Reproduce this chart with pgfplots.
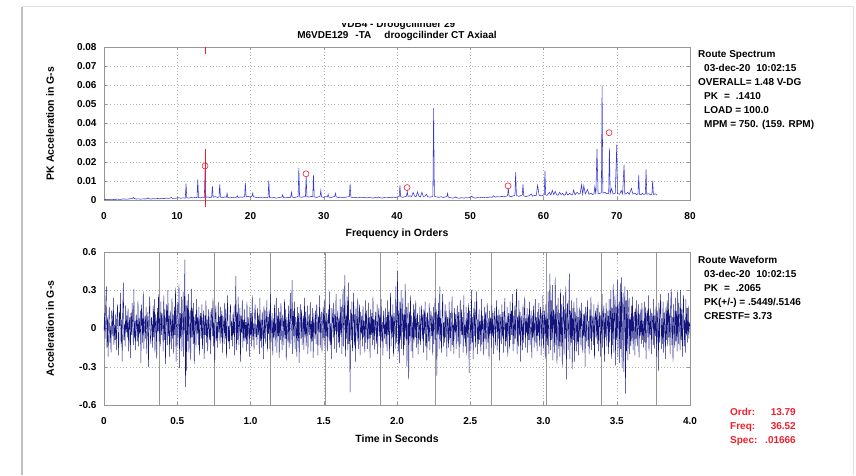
\documentclass[border=0pt]{standalone}
\usepackage{fontspec}
\setmainfont{Liberation Sans}
\usepackage{pgfplots}
\pgfplotsset{compat=1.18}
\usepackage{pgfplotstable}

\definecolor{specblue}{RGB}{55,55,215}
\definecolor{waveblue}{RGB}{20,20,125}
\definecolor{axgray}{RGB}{150,150,150}
\definecolor{cursred}{RGB}{240,30,45}
\definecolor{revgray}{RGB}{150,150,150}

% waveform samples, 4 ms apart
\pgfplotstableread[header=false,row sep=\\]{
-0.02\\ 0.12\\ -0.08\\ 0.21\\ 0.33\\ -0.15\\ 0.09\\ -0.22\\ 0.05\\ 0.17\\ -0.11\\ 0.02\\ -0.19\\ 0.14\\ 0.08\\ -0.06\\ 0.24\\ -0.13\\ 0.03\\ -0.09\\
0.11\\ -0.17\\ 0.06\\ 0.19\\ -0.04\\ -0.21\\ 0.13\\ 0.02\\ 0.28\\ -0.12\\ 0.07\\ -0.26\\ 0.15\\ 0.36\\ -0.09\\ 0.04\\ -0.14\\ 0.18\\ -0.03\\ 0.10\\
-0.07\\ 0.16\\ -0.18\\ 0.05\\ 0.09\\ -0.23\\ 0.12\\ -0.05\\ 0.20\\ 0.01\\ -0.13\\ 0.31\\ -0.08\\ 0.06\\ -0.17\\ 0.11\\ 0.03\\ -0.10\\ 0.22\\ -0.14\\
0.08\\ -0.04\\ 0.14\\ -0.27\\ 0.19\\ 0.06\\ -0.11\\ 0.29\\ -0.16\\ 0.02\\ 0.10\\ -0.08\\ 0.17\\ -0.20\\ 0.04\\ 0.13\\ -0.30\\ 0.07\\ 0.25\\ -0.06\\
-0.12\\ 0.09\\ 0.03\\ -0.15\\ 0.18\\ -0.07\\ 0.23\\ -0.19\\ 0.11\\ 0.05\\ -0.24\\ 0.16\\ -0.02\\ 0.27\\ -0.10\\ 0.08\\ -0.14\\ 0.21\\ -0.05\\ 0.12\\
0.04\\ -0.18\\ 0.26\\ -0.09\\ 0.15\\ -0.28\\ 0.07\\ 0.19\\ -0.13\\ 0.30\\ -0.06\\ 0.10\\ -0.22\\ 0.14\\ 0.02\\ -0.16\\ 0.24\\ -0.08\\ 0.11\\ -0.20\\
0.17\\ -0.05\\ 0.32\\ -0.26\\ 0.09\\ 0.21\\ -0.14\\ 0.06\\ 0.35\\ -0.31\\ 0.12\\ -0.08\\ 0.25\\ -0.18\\ 0.04\\ 0.29\\ -0.22\\ 0.13\\ 0.54\\ -0.46\\
0.18\\ -0.33\\ 0.22\\ -0.10\\ 0.27\\ -0.19\\ 0.08\\ 0.14\\ -0.25\\ 0.31\\ -0.07\\ 0.16\\ -0.12\\ 0.20\\ -0.28\\ 0.05\\ 0.11\\ -0.15\\ 0.23\\ -0.04\\
0.09\\ -0.13\\ 0.17\\ -0.21\\ 0.06\\ 0.12\\ -0.08\\ 0.19\\ -0.16\\ 0.03\\ 0.14\\ -0.24\\ 0.10\\ -0.05\\ 0.22\\ -0.11\\ 0.07\\ -0.18\\ 0.15\\ 0.01\\
-0.09\\ 0.13\\ -0.20\\ 0.08\\ 0.16\\ -0.06\\ 0.24\\ -0.14\\ 0.04\\ -0.27\\ 0.11\\ 0.18\\ -0.10\\ 0.05\\ -0.15\\ 0.21\\ -0.03\\ 0.09\\ -0.12\\ 0.17\\
-0.07\\ 0.14\\ -0.19\\ 0.10\\ 0.03\\ -0.12\\ 0.20\\ -0.08\\ 0.15\\ -0.23\\ 0.07\\ 0.26\\ -0.11\\ 0.02\\ -0.16\\ 0.12\\ 0.19\\ -0.09\\ 0.06\\ -0.14\\
0.11\\ -0.05\\ 0.18\\ -0.21\\ 0.08\\ 0.41\\ -0.17\\ 0.13\\ -0.09\\ 0.25\\ -0.13\\ 0.04\\ 0.16\\ -0.26\\ 0.10\\ -0.03\\ 0.22\\ -0.15\\ 0.07\\ -0.10\\
0.15\\ -0.08\\ 0.05\\ -0.18\\ 0.21\\ -0.12\\ 0.09\\ 0.02\\ -0.22\\ 0.17\\ -0.06\\ 0.12\\ -0.14\\ 0.26\\ -0.09\\ 0.04\\ -0.17\\ 0.11\\ 0.19\\ -0.07\\
0.03\\ -0.13\\ 0.16\\ -0.05\\ 0.10\\ -0.20\\ 0.24\\ -0.10\\ 0.07\\ -0.15\\ 0.13\\ 0.01\\ -0.24\\ 0.18\\ -0.08\\ 0.14\\ -0.12\\ 0.06\\ 0.22\\ -0.18\\
0.09\\ -0.04\\ 0.15\\ -0.16\\ 0.27\\ -0.11\\ 0.05\\ 0.12\\ -0.21\\ 0.08\\ -0.07\\ 0.19\\ -0.14\\ 0.03\\ 0.24\\ -0.19\\ 0.10\\ -0.06\\ 0.16\\ -0.23\\
0.13\\ -0.09\\ 0.20\\ -0.02\\ -0.17\\ 0.11\\ 0.06\\ -0.13\\ 0.23\\ -0.08\\ 0.15\\ -0.25\\ 0.09\\ 0.02\\ -0.11\\ 0.18\\ -0.15\\ 0.07\\ 0.28\\ -0.12\\
0.05\\ 0.38\\ -0.20\\ 0.14\\ -0.06\\ 0.21\\ -0.16\\ 0.09\\ 0.03\\ -0.22\\ 0.17\\ -0.10\\ 0.12\\ -0.27\\ 0.06\\ 0.19\\ -0.08\\ 0.15\\ -0.13\\ 0.04\\
0.10\\ -0.17\\ 0.24\\ -0.07\\ 0.13\\ -0.14\\ 0.02\\ 0.18\\ -0.20\\ 0.08\\ 0.11\\ -0.05\\ 0.21\\ -0.18\\ 0.06\\ -0.10\\ 0.16\\ -0.23\\ 0.12\\ 0.03\\
-0.08\\ 0.14\\ -0.12\\ 0.19\\ 0.05\\ -0.21\\ 0.10\\ -0.03\\ 0.26\\ -0.15\\ 0.08\\ 0.13\\ -0.19\\ 0.04\\ 0.17\\ -0.09\\ 0.22\\ -0.14\\ 0.07\\ -0.06\\
0.12\\ -0.18\\ 0.07\\ 0.15\\ -0.10\\ 0.29\\ -0.13\\ 0.04\\ -0.24\\ 0.16\\ 0.09\\ -0.07\\ 0.20\\ -0.16\\ 0.11\\ -0.02\\ 0.27\\ -0.19\\ 0.06\\ 0.14\\
-0.11\\ 0.08\\ -0.15\\ 0.23\\ -0.05\\ 0.17\\ -0.20\\ 0.12\\ 0.31\\ -0.14\\ 0.06\\ 0.42\\ -0.22\\ 0.10\\ -0.08\\ 0.25\\ -0.17\\ 0.36\\ -0.12\\ 0.07\\
-0.50\\ 0.15\\ -0.09\\ 0.21\\ -0.18\\ 0.05\\ 0.28\\ -0.13\\ 0.11\\ -0.26\\ 0.17\\ 0.03\\ -0.10\\ 0.24\\ -0.16\\ 0.08\\ 0.19\\ -0.21\\ 0.13\\ -0.04\\
0.10\\ -0.14\\ 0.18\\ -0.07\\ 0.06\\ -0.19\\ 0.22\\ -0.11\\ 0.14\\ 0.02\\ -0.16\\ 0.20\\ -0.08\\ 0.09\\ -0.23\\ 0.15\\ -0.05\\ 0.12\\ -0.13\\ 0.25\\
-0.09\\ 0.07\\ -0.17\\ 0.13\\ 0.04\\ -0.12\\ 0.19\\ -0.20\\ 0.08\\ 0.16\\ -0.06\\ 0.11\\ -0.15\\ 0.23\\ -0.10\\ 0.05\\ -0.21\\ 0.14\\ 0.02\\ -0.08\\
0.16\\ -0.12\\ 0.09\\ -0.18\\ 0.22\\ -0.05\\ 0.13\\ -0.24\\ 0.07\\ 0.28\\ -0.14\\ 0.10\\ -0.07\\ 0.19\\ -0.22\\ 0.12\\ 0.04\\ -0.16\\ 0.33\\ -0.11\\
0.08\\ 0.45\\ -0.19\\ 0.14\\ -0.27\\ 0.21\\ -0.09\\ 0.30\\ -0.16\\ 0.06\\ 0.24\\ -0.21\\ 0.11\\ -0.13\\ 0.35\\ -0.08\\ 0.17\\ -0.30\\ 0.09\\ 0.20\\
-0.40\\ 0.13\\ -0.06\\ 0.26\\ -0.18\\ 0.10\\ 0.03\\ -0.23\\ 0.19\\ -0.11\\ 0.15\\ -0.07\\ 0.22\\ -0.15\\ 0.08\\ 0.12\\ -0.20\\ 0.05\\ -0.09\\ 0.17\\
-0.13\\ 0.06\\ 0.18\\ -0.08\\ 0.11\\ -0.19\\ 0.15\\ -0.04\\ 0.21\\ -0.14\\ 0.09\\ -0.25\\ 0.13\\ 0.02\\ -0.10\\ 0.20\\ -0.17\\ 0.07\\ 0.14\\ -0.06\\
0.10\\ -0.21\\ 0.17\\ -0.12\\ 0.06\\ 0.24\\ -0.09\\ 0.15\\ -0.37\\ 0.11\\ -0.05\\ 0.20\\ -0.16\\ 0.33\\ -0.10\\ 0.08\\ -0.19\\ 0.13\\ 0.27\\ -0.14\\
0.05\\ -0.11\\ 0.19\\ -0.07\\ 0.14\\ -0.22\\ 0.09\\ 0.02\\ -0.15\\ 0.21\\ -0.09\\ 0.12\\ -0.18\\ 0.07\\ 0.25\\ -0.13\\ 0.04\\ -0.20\\ 0.16\\ -0.03\\
0.11\\ -0.16\\ 0.08\\ 0.18\\ -0.10\\ 0.13\\ -0.23\\ 0.06\\ 0.22\\ -0.12\\ 0.15\\ -0.05\\ 0.09\\ -0.19\\ 0.26\\ -0.08\\ 0.03\\ -0.14\\ 0.17\\ -0.21\\
0.12\\ -0.07\\ 0.20\\ -0.35\\ 0.14\\ 0.04\\ -0.17\\ 0.30\\ -0.11\\ 0.09\\ -0.24\\ 0.16\\ -0.06\\ 0.21\\ -0.15\\ 0.10\\ 0.29\\ -0.20\\ 0.07\\ -0.12\\
0.15\\ -0.09\\ 0.06\\ -0.18\\ 0.23\\ -0.13\\ 0.10\\ 0.02\\ -0.21\\ 0.17\\ -0.08\\ 0.13\\ -0.16\\ 0.05\\ 0.20\\ -0.11\\ 0.08\\ -0.24\\ 0.14\\ -0.04\\
0.09\\ -0.15\\ 0.18\\ -0.06\\ 0.12\\ -0.20\\ 0.07\\ 0.16\\ -0.13\\ 0.04\\ 0.22\\ -0.17\\ 0.10\\ -0.08\\ 0.15\\ -0.25\\ 0.11\\ 0.03\\ -0.12\\ 0.19\\
-0.07\\ 0.13\\ -0.19\\ 0.08\\ 0.24\\ -0.14\\ 0.05\\ -0.10\\ 0.17\\ -0.22\\ 0.12\\ 0.06\\ -0.16\\ 0.21\\ -0.09\\ 0.14\\ -0.05\\ 0.27\\ -0.18\\ 0.10\\
-0.12\\ 0.18\\ -0.08\\ 0.15\\ 0.31\\ -0.20\\ 0.09\\ -0.14\\ 0.22\\ -0.06\\ 0.13\\ -0.26\\ 0.10\\ 0.03\\ -0.17\\ 0.19\\ -0.11\\ 0.07\\ 0.25\\ -0.15\\
0.08\\ -0.04\\ 0.16\\ -0.19\\ 0.11\\ -0.09\\ 0.21\\ -0.13\\ 0.06\\ 0.14\\ -0.23\\ 0.10\\ -0.07\\ 0.18\\ -0.15\\ 0.04\\ 0.23\\ -0.11\\ 0.09\\ -0.18\\
0.13\\ -0.06\\ 0.20\\ -0.14\\ 0.07\\ 0.17\\ -0.21\\ 0.12\\ -0.08\\ 0.26\\ -0.16\\ 0.05\\ 0.14\\ -0.24\\ 0.19\\ -0.10\\ 0.08\\ -0.13\\ 0.29\\ -0.20\\
0.11\\ 0.43\\ -0.17\\ 0.22\\ -0.09\\ 0.34\\ -0.25\\ 0.15\\ 0.07\\ -0.19\\ 0.40\\ -0.13\\ 0.18\\ -0.28\\ 0.09\\ 0.24\\ -0.16\\ 0.12\\ -0.22\\ 0.31\\
-0.14\\ 0.19\\ -0.30\\ 0.10\\ 0.26\\ -0.21\\ 0.15\\ -0.08\\ 0.33\\ -0.40\\ 0.12\\ 0.20\\ -0.17\\ 0.06\\ 0.43\\ -0.24\\ 0.14\\ -0.11\\ 0.22\\ -0.32\\
0.16\\ -0.09\\ 0.21\\ -0.26\\ 0.13\\ 0.05\\ -0.18\\ 0.24\\ -0.12\\ 0.09\\ -0.21\\ 0.17\\ -0.07\\ 0.14\\ -0.15\\ 0.20\\ 0.03\\ -0.19\\ 0.11\\ -0.06\\
0.12\\ -0.30\\ 0.17\\ -0.10\\ 0.08\\ 0.22\\ -0.14\\ 0.06\\ -0.20\\ 0.15\\ -0.08\\ 0.25\\ -0.17\\ 0.10\\ 0.04\\ -0.13\\ 0.19\\ -0.24\\ 0.09\\ 0.14\\
-0.08\\ 0.16\\ -0.12\\ 0.21\\ -0.18\\ 0.07\\ 0.13\\ -0.22\\ 0.10\\ -0.05\\ 0.27\\ -0.15\\ 0.09\\ 0.18\\ -0.26\\ 0.12\\ -0.07\\ 0.20\\ -0.14\\ 0.05\\
0.14\\ -0.20\\ 0.23\\ -0.11\\ 0.08\\ 0.30\\ -0.24\\ 0.16\\ -0.13\\ 0.35\\ -0.19\\ 0.11\\ 0.26\\ -0.29\\ 0.17\\ -0.09\\ 0.38\\ -0.22\\ 0.13\\ 0.21\\
-0.27\\ 0.36\\ -0.16\\ 0.40\\ -0.31\\ 0.19\\ 0.28\\ -0.34\\ 0.14\\ 0.33\\ -0.51\\ 0.22\\ -0.18\\ 0.30\\ -0.25\\ 0.12\\ 0.24\\ -0.20\\ 0.09\\ -0.14\\
0.18\\ -0.10\\ 0.25\\ -0.17\\ 0.07\\ 0.13\\ -0.21\\ 0.16\\ -0.08\\ 0.22\\ -0.14\\ 0.05\\ 0.19\\ -0.23\\ 0.11\\ -0.06\\ 0.15\\ -0.12\\ 0.20\\ -0.09\\
0.06\\ -0.15\\ 0.21\\ -0.11\\ 0.17\\ -0.24\\ 0.09\\ 0.14\\ -0.07\\ 0.26\\ -0.18\\ 0.10\\ -0.05\\ 0.16\\ -0.20\\ 0.12\\ 0.08\\ -0.13\\ 0.23\\ -0.16\\
0.10\\ -0.06\\ 0.18\\ -0.22\\ 0.14\\ 0.05\\ -0.33\\ 0.20\\ -0.11\\ 0.15\\ 0.27\\ -0.16\\ 0.08\\ -0.12\\ 0.21\\ -0.19\\ 0.13\\ 0.03\\ -0.24\\ 0.17\\
-0.09\\ 0.22\\ -0.14\\ 0.28\\ -0.07\\ 0.12\\ -0.20\\ 0.17\\ 0.31\\ -0.13\\ 0.09\\ -0.26\\ 0.19\\ 0.06\\ -0.15\\ 0.24\\ -0.10\\ 0.14\\ -0.18\\ 0.29\\
-0.12\\ 0.20\\ 0.08\\ -0.17\\ 0.30\\ -0.09\\ 0.15\\ -0.22\\ 0.11\\ 0.26\\ -0.14\\ 0.07\\ -0.19\\ 0.23\\ -0.06\\ 0.16\\ -0.11\\ 0.18\\ -0.08\\ 0.04\\
0.02\\
}\wave

\begin{document}
\begin{tikzpicture}[x=1pt,y=1pt]
\useasboundingbox (0,0) rectangle (856,476);
% window frame
\draw[black!12, line width=1pt] (22,469) -- (853,469) -- (853,1);
\draw[black!25, line width=2.5pt] (22,1) -- (22,469);

\pgfplotsset{
  every axis/.append style={
    scale only axis, anchor=south west, width=586pt, height=153pt,
    axis line style={axgray}, tick style={axgray, thin}, major tick length=3pt,
    tick align=inside,
    scaled ticks=false,
    grid=major, grid style={gray!60, dash pattern=on 0.8pt off 2.4pt},
    /pgf/number format/assume math mode=true,
    ticklabel style={font=\fontsize{10}{12}\selectfont\bfseries},
    xticklabel style={yshift=-9pt},
    yticklabel style={xshift=-4pt},
    label style={font=\fontsize{10.5}{12}\selectfont\bfseries},
    xlabel style={at={(axis description cs:0.5,-0.219)}, anchor=center},
    ylabel style={at={(axis description cs:-0.092,0.5)}, anchor=center},
    clip=false,
  }
}

% spectrum
\begin{axis}[
  at={(104pt,276pt)},
  xmin=0, xmax=80, ymin=0, ymax=0.08,
  xtick={0,10,20,30,40,50,60,70,80},
  xticklabels={0,10,20,30,40,50,60,70,80},
  ytick={0,0.01,0.02,0.03,0.04,0.05,0.06,0.07,0.08},
  yticklabels={0,0.01,0.02,0.03,0.04,0.05,0.06,0.07,0.08},
  xlabel={Frequency in Orders},
  ylabel={PK Acceleration in G-s},
]
\addplot[specblue, line width=0.55pt, sharp plot] coordinates {
(0.0,0.0002)(0.3,0.0003)(0.6,0.0002)(0.9,0.0004)(1.2,0.0003)(1.5,0.0002)(1.8,0.0005)(2.1,0.0003)
(2.4,0.0004)(2.7,0.0006)(3.0,0.0004)(3.3,0.0005)(3.6,0.0007)(3.9,0.0009)(4.0,0.0014)(4.1,0.0008)
(4.4,0.0005)(4.7,0.0006)(5.0,0.0004)(5.3,0.0006)(5.6,0.0005)(5.9,0.0008)(6.0,0.0012)(6.1,0.0007)
(6.4,0.0005)(6.7,0.0007)(7.0,0.0006)(7.3,0.0008)(7.6,0.0006)(7.9,0.0009)(8.2,0.0007)(8.5,0.0010)
(8.8,0.0008)(9.1,0.0011)(9.2,0.0014)(9.3,0.0009)(9.6,0.0008)(9.9,0.0010)(10.2,0.0012)(10.5,0.0009)
(10.8,0.0011)(11.1,0.0010)(11.2,0.0086)(11.3,0.0012)(11.6,0.0010)(11.9,0.0013)(12.2,0.0011)(12.5,0.0014)
(12.7,0.0012)(12.8,0.0107)(12.9,0.0013)(13.2,0.0011)(13.5,0.0015)(13.7,0.0013)(13.8,0.0166)(13.9,0.0014)
(14.2,0.0016)(14.5,0.0012)(14.7,0.0015)(14.8,0.0072)(14.9,0.0014)(15.2,0.0018)(15.5,0.0013)(15.7,0.0016)
(15.8,0.0082)(15.9,0.0015)(16.2,0.0012)(16.5,0.0016)(16.7,0.0014)(16.8,0.0035)(16.9,0.0013)(17.2,0.0011)
(17.5,0.0014)(17.8,0.0012)(18.1,0.0015)(18.2,0.0022)(18.3,0.0013)(18.6,0.0016)(18.9,0.0014)(19.2,0.0018)
(19.3,0.0089)(19.4,0.0016)(19.7,0.0019)(20.0,0.0015)(20.2,0.0020)(20.3,0.0035)(20.4,0.0017)(20.7,0.0014)
(21.0,0.0012)(21.3,0.0015)(21.6,0.0011)(21.9,0.0013)(22.2,0.0012)(22.4,0.0014)(22.5,0.0103)(22.6,0.0013)
(22.9,0.0011)(23.2,0.0013)(23.5,0.0010)(23.8,0.0012)(24.1,0.0014)(24.3,0.0016)(24.4,0.0027)(24.5,0.0013)
(24.8,0.0011)(25.1,0.0014)(25.4,0.0012)(25.5,0.0018)(25.6,0.0040)(25.7,0.0015)(26.0,0.0013)(26.3,0.0016)
(26.5,0.0018)(26.6,0.0167)(26.7,0.0017)(27.0,0.0014)(27.3,0.0018)(27.5,0.0016)(27.6,0.0125)(27.7,0.0018)
(28.0,0.0015)(28.3,0.0019)(28.5,0.0017)(28.6,0.0129)(28.7,0.0016)(29.0,0.0013)(29.3,0.0017)(29.5,0.0020)
(29.6,0.0050)(29.7,0.0016)(30.0,0.0014)(30.3,0.0018)(30.5,0.0016)(30.6,0.0030)(30.7,0.0015)(31.0,0.0013)
(31.3,0.0017)(31.5,0.0019)(31.6,0.0035)(31.7,0.0016)(32.0,0.0013)(32.3,0.0015)(32.6,0.0012)(32.9,0.0014)
(33.2,0.0016)(33.5,0.0018)(33.6,0.0086)(33.7,0.0015)(34.0,0.0012)(34.3,0.0014)(34.6,0.0011)(34.9,0.0013)
(35.2,0.0012)(35.5,0.0014)(35.8,0.0011)(36.1,0.0013)(36.4,0.0012)(36.7,0.0010)(37.0,0.0013)(37.3,0.0011)
(37.5,0.0016)(37.7,0.0012)(38.0,0.0010)(38.3,0.0013)(38.6,0.0011)(38.9,0.0014)(39.2,0.0012)(39.5,0.0015)
(39.8,0.0013)(40.1,0.0016)(40.3,0.0018)(40.4,0.0077)(40.5,0.0017)(40.8,0.0014)(41.1,0.0018)(41.3,0.0020)
(41.4,0.0045)(41.5,0.0019)(41.8,0.0022)(42.0,0.0018)(42.2,0.0040)(42.4,0.0020)(42.6,0.0017)(42.8,0.0042)
(43.0,0.0019)(43.2,0.0016)(43.4,0.0040)(43.6,0.0018)(43.8,0.0020)(44.0,0.0030)(44.2,0.0017)(44.5,0.0015)
(44.8,0.0018)(44.9,0.0022)(45.0,0.0480)(45.1,0.0020)(45.4,0.0016)(45.7,0.0014)(46.0,0.0017)(46.3,0.0013)
(46.6,0.0016)(46.8,0.0018)(46.9,0.0035)(47.0,0.0015)(47.3,0.0012)(47.6,0.0010)(47.9,0.0013)(48.0,0.0016)
(48.2,0.0011)(48.5,0.0009)(48.8,0.0012)(49.1,0.0010)(49.4,0.0012)(49.7,0.0011)(50.0,0.0014)(50.2,0.0020)
(50.4,0.0012)(50.7,0.0010)(51.0,0.0013)(51.3,0.0011)(51.5,0.0014)(51.8,0.0012)(52.1,0.0015)(52.4,0.0013)
(52.7,0.0016)(53.0,0.0014)(53.2,0.0022)(53.4,0.0015)(53.7,0.0018)(54.0,0.0016)(54.3,0.0019)(54.6,0.0017)
(54.9,0.0020)(55.1,0.0022)(55.2,0.0060)(55.3,0.0021)(55.6,0.0018)(55.9,0.0022)(56.1,0.0025)(56.2,0.0146)
(56.3,0.0024)(56.6,0.0019)(56.9,0.0023)(57.1,0.0026)(57.2,0.0082)(57.3,0.0022)(57.6,0.0018)(57.9,0.0021)
(58.1,0.0023)(58.3,0.0032)(58.5,0.0020)(58.8,0.0024)(59.0,0.0022)(59.2,0.0077)(59.4,0.0025)(59.7,0.0021)
(60.0,0.0026)(60.1,0.0028)(60.2,0.0151)(60.3,0.0027)(60.5,0.0024)(60.8,0.0040)(61.0,0.0026)(61.2,0.0050)
(61.4,0.0028)(61.6,0.0045)(61.8,0.0027)(62.0,0.0025)(62.2,0.0040)(62.4,0.0028)(62.6,0.0035)(62.8,0.0024)
(63.0,0.0029)(63.1,0.0042)(63.3,0.0026)(63.6,0.0035)(63.8,0.0027)(64.0,0.0030)(64.1,0.0052)(64.3,0.0028)
(64.6,0.0040)(64.8,0.0031)(65.0,0.0033)(65.2,0.0080)(65.35,0.0030)(65.5,0.0075)(65.7,0.0032)(66.0,0.0055)
(66.2,0.0030)(66.5,0.0035)(66.7,0.0028)(66.9,0.0032)(67.0,0.0069)(67.15,0.0030)(67.3,0.0266)(67.45,0.0032)
(67.7,0.0035)(67.9,0.0038)(68.0,0.0598)(68.1,0.0036)(68.4,0.0040)(68.6,0.0032)(68.9,0.0035)(69.0,0.0270)
(69.1,0.0034)(69.3,0.0060)(69.5,0.0031)(69.8,0.0036)(70.0,0.0290)(70.1,0.0033)(70.4,0.0030)(70.6,0.0050)
(70.8,0.0032)(71.0,0.0185)(71.1,0.0030)(71.3,0.0034)(71.5,0.0040)(71.7,0.0029)(72.0,0.0060)(72.2,0.0031)
(72.5,0.0035)(72.7,0.0028)(72.9,0.0032)(73.0,0.0129)(73.1,0.0030)(73.3,0.0027)(73.5,0.0035)(73.7,0.0029)
(73.9,0.0031)(74.0,0.0160)(74.1,0.0030)(74.4,0.0033)(74.6,0.0027)(74.8,0.0030)(74.9,0.0099)(75.0,0.0029)
(75.3,0.0032)(75.5,0.0025)
};
% harmonic markers and cursor
\addplot[only marks, mark=o, mark size=3pt, cursred, mark options={line width=0.6pt}]
  coordinates {(13.79,0.0178)(27.58,0.0137)(41.37,0.0065)(55.16,0.0074)(68.95,0.0352)};
\addplot[cursred, line width=1pt] coordinates {(13.79,0.0266)(13.79,-0.0035)};
\addplot[cursred, line width=1pt] coordinates {(13.79,0.080)(13.79,0.0765)};
\end{axis}

% waveform
\begin{axis}[
  at={(104pt,71pt)},
  xmin=0, xmax=4, ymin=-0.6, ymax=0.6,
  xtick={0,0.5,1,1.5,2,2.5,3,3.5,4},
  xticklabels={0,0.5,1.0,1.5,2.0,2.5,3.0,3.5,4.0},
  ytick={-0.6,-0.3,0,0.3,0.6},
  yticklabels={-0.6,-0.3,0,0.3,0.6},
  xlabel={Time in Seconds},
  ylabel={Acceleration in G-s},
]
\pgfplotsinvokeforeach{0.3774,0.7547,1.1321,1.5094,1.8868,2.2642,2.6415,3.0189,3.3962,3.7736}{
  \addplot[revgray, line width=0.7pt] coordinates {(#1,-0.6)(#1,0.6)};
}
\addplot[waveblue, line width=0.42pt] table[x expr=\coordindex*0.004, y index=0] {\wave};
\end{axis}

% titles
\node[anchor=base, font=\fontsize{10}{12}\selectfont\bfseries] at (398,448.5) {VDB4 - Droogcilinder 29};
\fill[white] (300,452.6) rectangle (500,467.5);
\node[anchor=base, font=\fontsize{10}{12}\selectfont\bfseries] at (397,437) {M6VDE129\hspace{7pt}-TA\hspace{13pt}droogcilinder CT Axiaal};

% spectrum info
\begin{scope}[every node/.style={anchor=base west, font=\fontsize{10}{12}\selectfont\bfseries, inner sep=0pt}]
\node at (698,418.5) {Route Spectrum};
\node at (704,404.5) {03-dec-20\hspace{6pt}10:02:15};
\node at (698,390.5) {OVERALL= 1.48 V-DG};
\node at (704,376.5) {PK\hspace{6pt}=\hspace{6pt}.1410};
\node at (704,362.5) {LOAD = 100.0};
\node at (704,348.5) {MPM = 750. (159. RPM)};
\node at (698,212.5) {Route Waveform};
\node at (704,198.5) {03-dec-20\hspace{6pt}10:02:15};
\node at (704,184.5) {PK\hspace{6pt}=\hspace{6pt}.2065};
\node at (704,170.5) {PK(+/-) = .5449/.5146};
\node at (704,156.5) {CRESTF= 3.73};
\node[text=cursred] at (730,60) {Ordr:};
\node[text=cursred] at (730,46) {Freq:};
\node[text=cursred] at (730,32) {Spec:};
\node[text=cursred, anchor=base east] at (796,60) {13.79};
\node[text=cursred, anchor=base east] at (796,46) {36.52};
\node[text=cursred, anchor=base east] at (796,32) {.01666};
\end{scope}
\end{tikzpicture}
\end{document}
